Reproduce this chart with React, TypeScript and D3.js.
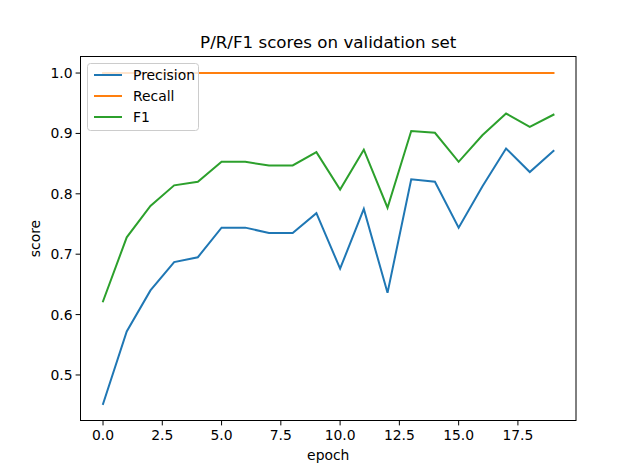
import React from "react";
import * as d3 from "d3";

const epochs = d3.range(20);
const precision = [0.452,0.572,0.640,0.687,0.695,0.744,0.744,0.735,0.735,0.768,0.676,0.775,0.636,0.824,0.820,0.744,0.812,0.875,0.836,0.871];
const recall = epochs.map(() => 1.0);
const f1 = [0.622,0.728,0.780,0.814,0.820,0.853,0.853,0.847,0.847,0.869,0.807,0.873,0.777,0.904,0.901,0.853,0.897,0.933,0.911,0.931];
const xTicks = [0,2.5,5,7.5,10,12.5,15,17.5];
const yTicks = [0.5,0.6,0.7,0.8,0.9,1.0];
const series = [
  { name: "Precision", values: precision, color: "#1f77b4" },
  { name: "Recall", values: recall, color: "#ff7f0e" },
  { name: "F1", values: f1, color: "#2ca02c" },
];

export default function App() {
  const L = 80.5, R = 576, T = 56.5, B = 420.5;
  const x = d3.scaleLinear().domain([-0.95, 19.95]).range([L, R]);
  const y = d3.scaleLinear().domain([0.4246, 1.0274]).range([B, T]);
  const line = (v: number[]) => d3.line<number>().x((_, i) => x(i)).y(d => y(d))(v) || "";
  const font = "DejaVu Sans, sans-serif";
  return (
    <svg width={640} height={473} style={{ position: "absolute", left: 0, top: 0, background: "#fff" }} fontFamily={font}>
      <rect x={0} y={0} width={640} height={473} fill="#fff" />
      {series.map(s => (
        <path key={s.name} d={line(s.values)} fill="none" stroke={s.color} strokeWidth={2} strokeLinecap="square" />
      ))}
      <rect x={L} y={T} width={R - L} height={B - T} fill="none" stroke="#000" strokeWidth={1} />
      {xTicks.map(t => (
        <g key={t}>
          <line x1={x(t)} x2={x(t)} y1={B} y2={B + 4.9} stroke="#000" />
          <text x={x(t)} y={B + 19} fontSize={13.9} textAnchor="middle">{t.toFixed(1)}</text>
        </g>
      ))}
      {yTicks.map(t => (
        <g key={t}>
          <line x1={L - 4.9} x2={L} y1={y(t)} y2={y(t)} stroke="#000" />
          <text x={L - 8} y={y(t) + 5} fontSize={13.9} textAnchor="end">{t.toFixed(1)}</text>
        </g>
      ))}
      <text x={(L + R) / 2} y={460} fontSize={13.9} textAnchor="middle">epoch</text>
      <text transform={`translate(40,${(T + B) / 2}) rotate(-90)`} fontSize={13.9} textAnchor="middle">score</text>
      <text x={(L + R) / 2} y={48} fontSize={16.7} textAnchor="middle">P/R/F1 scores on validation set</text>
      <rect x={87.5} y={63.5} width={111} height={67} fill="#fff" fillOpacity={0.8} stroke="#ccc" rx={3} />
      {series.map((s, i) => (
        <g key={s.name}>
          <line x1={94} x2={122} y1={75 + i * 21} y2={75 + i * 21} stroke={s.color} strokeWidth={2} />
          <text x={133} y={80 + i * 21} fontSize={13.9}>{s.name}</text>
        </g>
      ))}
    </svg>
  );
}
